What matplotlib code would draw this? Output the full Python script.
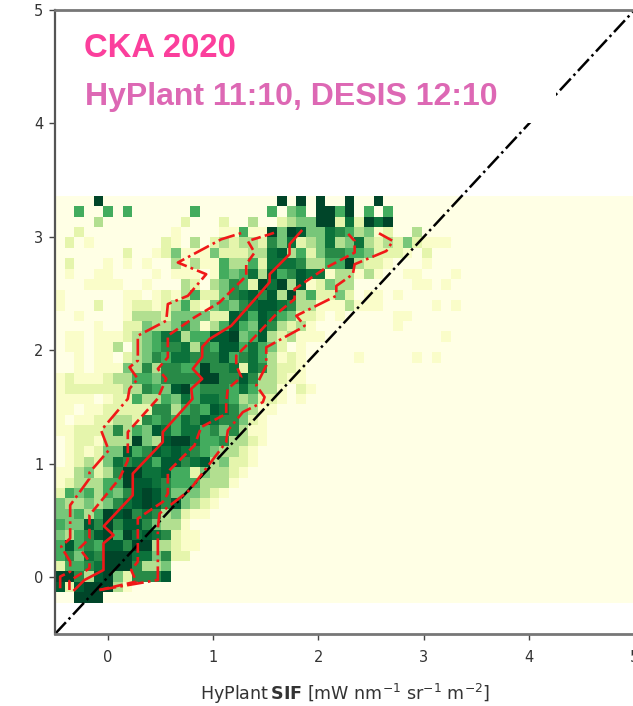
import numpy as np
import matplotlib
matplotlib.use("Agg")
import matplotlib.pyplot as plt
from matplotlib.colors import ListedColormap
from matplotlib.patches import Rectangle

# Density level per 2-D histogram cell (top row first, columns left to right)
density_rows = [
 "00009 00000 00000 00000 00090 90900 90090 00000 00000",
 "00500 50500 00005 00000 00504 50995 90505 00000 00000",
 "00003 00000 00020 00200 30023 44992 72979 00000 00000",
 "00200 00000 00100 00115 11949 84476 53412 00300 00000",
 "02010 00000 02103 02323 32647 23473 47323 24211 10000",
 "00000 00200 12411 14222 33783 52466 55422 21020 00000",
 "02000 10101 00313 11533 52777 63355 93221 00010 00000",
 "01001 10000 10111 01545 73856 87713 31310 01100 01000",
 "00011 11001 00032 03465 29793 81243 30000 00110 10000",
 "10000 00110 12135 22467 86839 35224 20110 10000 00000",
 "10002 00122 12352 14546 78876 33111 31110 00001 01000",
 "00100 00133 32444 42287 58754 22101 00000 11000 00000",
 "00001 00224 33464 13585 48632 31000 00000 10000 00000",
 "01101 11234 57735 58894 58323 11100 00000 00000 10000",
 "01101 13034 56673 65885 75420 10000 00000 00000 00000",
 "00101 10234 65776 66856 75312 10000 01000 00101 00000",
 "00101 11436 36655 96672 76322 10000 00000 00000 00000",
 "12111 23355 46666 99668 63321 10000 00000 00000 00000",
 "12222 22336 54895 66657 53310 21000 00000 00000 00000",
 "11110 12253 35475 77653 42210 10000 00000 00000 00000",
 "11011 22222 66356 58764 31100 00000 00000 00000 00000",
 "10112 23326 56576 87664 21000 00000 00000 00000 00000",
 "11222 36354 87577 56463 11000 00000 00000 00000 00000",
 "01221 33394 38997 55633 21000 00000 00000 00000 00000",
 "01212 44856 87876 54332 10000 00000 00000 00000 00000",
 "01232 47677 58867 83422 10000 00000 00000 00000 00000",
 "11342 36997 78552 43321 00000 00000 00000 00000 00000",
 "12333 55988 76555 33310 00000 00000 00000 00000 00000",
 "25453 54689 86444 32100 00000 00000 00000 00000 00000",
 "43343 46789 86843 21000 00000 00000 00000 00000 00000",
 "44535 98967 63421 10000 00000 00000 00000 00000 00000",
 "54486 96886 43310 00000 00000 00000 00000 00000 00000",
 "43568 95978 76211 00000 00000 00000 00000 00000 00000",
 "58565 88699 33211 00000 00000 00000 00000 00000 00000",
 "56476 99977 46220 00000 00000 00000 00000 00000 00000",
 "25567 99963 34000 00000 00000 00000 00000 00000 00000",
 "99638 94266 68000 00000 00000 00000 00000 00000 00000",
 "82899 93100 00000 00000 00000 00000 00000 00000 00000",
 "00999 00000 00000 00000 00000 00000 00000 00000 00000",
]
n_cols = 60
x_edge_first, x_edge_last = -0.5, 5.0
y_edge_first, bin_height = -0.225, 0.092
level_shades = [0, .08, .2, .36, .5, .62, .73, .83, .92, 1]

median_x = [-0.316,-0.22,-0.04,-0.04,0.055,-0.037,0.238,0.238,0.523,0.523,0.805,0.793,0.897,0.808,0.897,0.897,0.967,1.173,1.425,1.537,1.537,1.726,1.726,1.838]
median_y = [-0.112,-0.024,0.064,0.299,0.372,0.451,0.723,0.914,1.192,1.28,1.573,1.661,1.749,1.837,1.942,2.03,2.10,2.217,2.48,2.601,2.671,2.847,2.935,3.052]

q25_x = [-0.363,-0.363,-0.173,-0.173,-0.268,-0.173,-0.173,0.112,0.191,0.191,0.473,0.556,0.476,0.571,0.571,0.824,1.062,1.315,1.315,1.394,1.33,1.537,1.585]
q25_y = [-0.112,-0.033,0.079,0.138,0.255,0.343,0.547,0.87,1.031,1.28,1.573,1.749,1.837,1.939,2.129,2.291,2.423,2.656,2.759,2.862,2.964,3.023,3.038]

q75_x = [-0.078,0.271,0.223,0.286,0.286,0.523,0.571,0.571,0.824,0.888,1.125,1.125,1.14,1.268,1.22,1.22,1.347,1.6,1.774,1.774,2.075,2.344,2.344,2.258]
q75_y = [-0.112,-0.038,0.064,0.138,0.518,0.665,0.738,0.929,1.163,1.324,1.441,1.544,1.661,1.764,1.866,1.953,2.071,2.32,2.452,2.54,2.73,2.862,2.964,3.052]

q10_x = [-0.451,-0.451,-0.356,-0.356,-0.442,-0.356,-0.356,-0.173,-0.173,0.01,-0.062,0.191,0.207,0.286,0.207,0.286,0.286,0.556,0.571,0.761,0.935,0.666,1.078,1.283]
q10_y = [-0.097,0.006,0.05,0.138,0.27,0.343,0.635,0.87,0.923,1.119,1.294,1.573,1.661,1.749,1.851,1.91,2.129,2.261,2.408,2.481,2.671,2.774,2.979,3.038]

q90_x = [-0.078,0.476,0.476,0.492,0.777,1.125,1.14,1.283,1.473,1.489,1.41,1.505,1.505,1.821,1.869,1.79,2.17,2.17,2.327,2.344,2.645,2.707,2.575]
q90_y = [-0.112,-0.024,0.431,0.562,0.767,1.192,1.294,1.456,1.544,1.588,1.69,1.866,2.027,2.188,2.217,2.305,2.481,2.568,2.671,2.759,2.876,2.964,3.032]

x_ticks = [0, 1, 2, 3, 4, 5]
y_ticks = [0, 1, 2, 3, 4, 5]
title_campaign = "CKA 2020"
title_times = "HyPlant 11:10, DESIS 12:10"
x_label = r"HyPlant$\,\mathbf{SIF}$ [mW nm$^{-1}$ sr$^{-1}$ m$^{-2}$]"

W, H = 633, 706
fig = plt.figure(figsize=(W / 100, H / 100), dpi=100)
L, R, T, B = 55, 634.5, 10, 634
ax = fig.add_axes([L / W, 1 - B / H, (R - L) / W, (B - T) / H])

matrix = np.zeros((len(density_rows), n_cols))
for i, row in enumerate(density_rows[::-1]):
    digits = row.replace(" ", "")
    matrix[i, :len(digits)] = [int(c) for c in digits]
x_edges = np.linspace(x_edge_first, x_edge_last, n_cols + 1)
y_edges = y_edge_first + bin_height * np.arange(len(density_rows) + 1)
level_cmap = ListedColormap(plt.get_cmap("YlGn")(level_shades))
ax.pcolormesh(x_edges, y_edges, matrix, cmap=level_cmap, vmin=-0.5, vmax=9.5, antialiased=False, zorder=1)

ax.plot([-0.5, 5], [-0.5, 5], color="black", ls="-.", lw=1.8, zorder=2)
ax.plot(median_x, median_y, color="#f01818", ls="-", lw=1.9, zorder=3)
for xs, ys in ((q25_x, q25_y), (q75_x, q75_y)):
    ax.plot(xs, ys, color="#f01818", ls="--", lw=1.9, zorder=3)
for xs, ys in ((q10_x, q10_y), (q90_x, q90_y)):
    ax.plot(xs, ys, color="#f01818", ls="-.", lw=1.9, zorder=3)

ax.set_xlim(-0.5, 5)
ax.set_ylim(-0.5, 5)
ax.set_xticks(x_ticks)
ax.set_yticks(y_ticks)
ax.tick_params(labelsize=10.5, length=4.5, width=1.0, color="#444444", labelcolor="#333333", pad=7)
ax.tick_params(axis="y", pad=4)
for s in ax.spines.values():
    s.set_linewidth(1.6)
    s.set_color("#555555")
ax.spines["top"].set_linewidth(2.0)
ax.spines["top"].set_color("#777777")
ax.spines["bottom"].set_linewidth(2.0)
ax.spines["bottom"].set_color("#777777")
ax.set_xlabel(x_label, fontsize=12.6, color="#333333", labelpad=12.5)

# White panel behind the annotation, hiding part of the 1:1 line
fig.add_artist(Rectangle((80 / W, 1 - 123 / H), (556 - 80) / W, (123 - 20) / H,
                         transform=fig.transFigure, facecolor="white", edgecolor="none", zorder=5))
fig.text(84 / W, 1 - 57 / H, title_campaign, family="Liberation Sans", weight="bold",
         fontsize=23.6, color="#fb3f9c", zorder=6)
fig.text(85 / W, 1 - 105 / H, title_times, family="Liberation Sans", weight="bold",
         fontsize=23.05, color="#dd68b4", zorder=6)

fig.savefig("out.png", dpi=100)
